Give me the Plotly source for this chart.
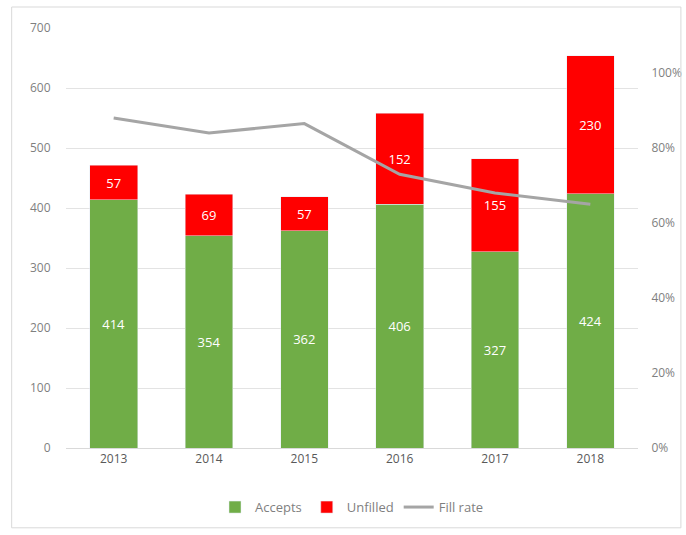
import plotly.graph_objects as go

years = ["2013", "2014", "2015", "2016", "2017", "2018"]
accepts = [414, 354, 362, 406, 327, 424]
unfilled = [57, 69, 57, 152, 155, 230]
fill_rate = [0.88, 0.84, 0.865, 0.73, 0.68, 0.65]

font_family = "Open Sans, Liberation Sans, sans-serif"
gray_text = "#7f7f7f"

fig = go.Figure()
fig.add_trace(go.Bar(
    x=years, y=accepts, name="Accepts", marker_color="#70AD47",
    text=accepts, textposition="inside", insidetextanchor="middle",
    textfont=dict(color="white", size=13, family=font_family),
))
fig.add_trace(go.Bar(
    x=years, y=unfilled, name="Unfilled", marker_color="#FF0000",
    text=unfilled, textposition="inside", insidetextanchor="middle",
    textfont=dict(color="white", size=13, family=font_family),
))
fig.add_trace(go.Scatter(
    x=years, y=fill_rate, name="Fill rate", mode="lines",
    line=dict(color="#A5A5A5", width=3), yaxis="y2",
))

fig.update_layout(
    width=686, height=535,
    barmode="stack", bargap=0.5,
    plot_bgcolor="white", paper_bgcolor="white",
    margin=dict(l=66, r=48, t=28, b=87),
    font=dict(family=font_family, size=12, color=gray_text),
    xaxis=dict(type="category", showgrid=False, showline=True,
               linecolor="#D9D9D9", linewidth=1, ticks="",
               tickfont=dict(size=12, color="#595959")),
    yaxis=dict(range=[0, 700], dtick=100, showgrid=True, gridcolor="#E3E3E3",
               zeroline=False, ticks="outside", ticklen=12, tickcolor="white",
               automargin=False,
               tickfont=dict(size=12, color=gray_text)),
    yaxis2=dict(overlaying="y", side="right", range=[0, 1.12], tickvals=[0, 0.2, 0.4, 0.6, 0.8, 1.0],
                tickformat=".0%", showgrid=False, zeroline=False,
                ticks="outside", ticklen=10, tickcolor="white", automargin=False,
                tickfont=dict(size=12, color=gray_text)),
    legend=dict(orientation="h", x=0.5, xanchor="center", y=-0.105, yanchor="top",
                font=dict(size=13, color=gray_text), traceorder="normal"),
    shapes=[dict(type="rect", xref="paper", yref="paper",
                 x0=-0.095, x1=1.075, y0=-0.19, y1=1.05,
                 line=dict(color="#D9D9D9", width=1))],
)

fig.write_html("out.html")
